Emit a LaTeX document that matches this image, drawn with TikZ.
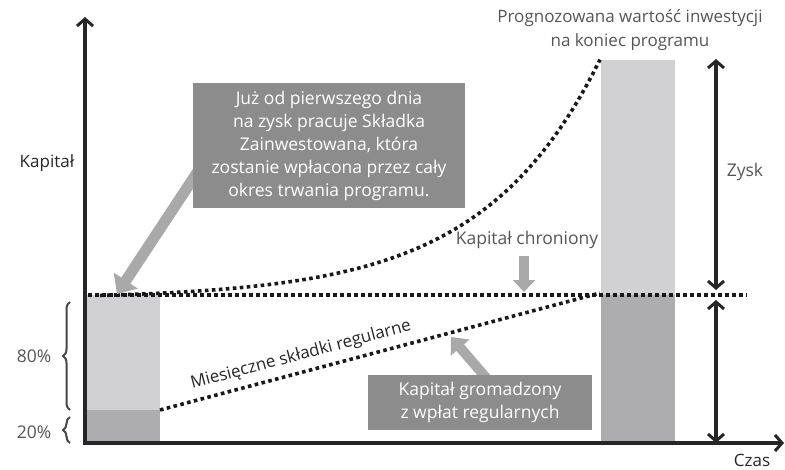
\documentclass[tikz,border=0pt]{standalone}
\usepackage{fontspec}
\setmainfont{Open Sans}
\usetikzlibrary{arrows.meta,decorations.pathreplacing}

\definecolor{barlight}{HTML}{D1D1D3}
\definecolor{bardark}{HTML}{ADADAF}
\definecolor{boxgray}{HTML}{8C8C8C}
\definecolor{pointgray}{HTML}{A9A9A9}
\definecolor{labelgray}{HTML}{555555}
\definecolor{inkdark}{HTML}{262626}

\tikzset{
	barb/.tip={Straight Barb[length=7pt,width=16pt,line width=3pt]},
	axis/.style={line width=3.6pt,draw=inkdark,barb-barb},
	span/.style={line width=3.6pt,draw=inkdark,barb-barb},
	dots/.style={line width=3.6pt,dash pattern=on 3.6pt off 3.4pt,draw=black!90},
	note/.style={fill=boxgray,text=white,align=center,inner sep=0pt,
		font=\fontsize{17.5}{23}\selectfont},
	pointer/.style={draw=pointgray,line width=11pt,-{Triangle[length=16pt,width=28pt]}},
	lbl/.style={text=labelgray,font=\fontsize{17.5}{21}\selectfont},
	dlbl/.style={text=inkdark,font=\fontsize{17}{21}\selectfont},
	curly/.style={decorate,decoration={brace,amplitude=7pt},line width=2pt,draw=inkdark!85},
}

\begin{document}
\begin{tikzpicture}[x=1pt,y=-1pt]
\useasboundingbox (0,0) rectangle (785,469);

% points
\coordinate (o) at (85,443);
\coordinate (ytop) at (85,17);
\coordinate (xend) at (784,443);

% bars
\fill[barlight] (87,295) rectangle (160,410);
\fill[bardark] (87,410) rectangle (160,441);
\fill[barlight] (601,60) rectangle (675,295);
\fill[bardark] (601,295) rectangle (675,441);

% dotted lines
\coordinate (c0) at (88,295);
\coordinate (c1) at (747,295);
\coordinate (r0) at (160,410);
\coordinate (r1) at (600,293);
\draw[dots] (c0) -- (c1);
\draw[dots] (r0) -- (r1)
	node[pos=0.33,sloped,above=3pt,dlbl] (reg) {Miesięczne składki regularne};
\draw[dots] plot[domain=100:600,samples=80] (\x,{295-3.88*(exp(0.0085*(\x-115))-1)});

% axes
\draw[axis] (ytop) -- (o) -- (xend);

% braces
\draw[curly] (70,410) -- (70,302);
\draw[curly] (70,443) -- (70,417);
\node[lbl] (p80) at (34,356) {80\%};
\node[lbl] (p20) at (34,432) {20\%};

% spans on the right
\coordinate (s0) at (716,59);
\coordinate (s1) at (716,290);
\coordinate (s2) at (716,300);
\coordinate (s3) at (716,443);
\draw[span] (s0) -- (s1);
\draw[span] (s2) -- (s3);
\node[lbl] (zysk) at (745,172) {Zysk};

% pointers and notes
\coordinate (t1) at (117,294);
\draw[pointer] (212,150) -- (t1);
\node[note,minimum width=272pt,minimum height=125pt] (first) at (329,145.5)
	{Już od pierwszego dnia\\na zysk pracuje Składka\\Zainwestowana, która\\zostanie wpłacona przez cały\\okres trwania programu.};

\coordinate (t2) at (451,337);
\draw[pointer,line width=10pt,-{Triangle[length=14pt,width=24pt]}] (488,380) -- (t2);
\node[note,minimum width=224pt,minimum height=55pt] (accum) at (480,402.5)
	{Kapitał gromadzony\\z wpłat regularnych};

\node[lbl] (prot) at (527,240) {Kapitał chroniony};
\coordinate (t3) at (524,292);
\draw[pointer,line width=10pt,-{Triangle[length=12pt,width=22pt]}] (prot.south -| t3) ++(0,4) -- (t3);

% labels
\node[dlbl] (cap) at (47,163) {Kapitał};
\node[dlbl] (time) at (752,460) {Czas};
\node[lbl,align=center,font=\fontsize{17}{24}\selectfont] (final) at (630,30)
	{Prognozowana wartość inwestycji\\na koniec programu};
\end{tikzpicture}
\end{document}
